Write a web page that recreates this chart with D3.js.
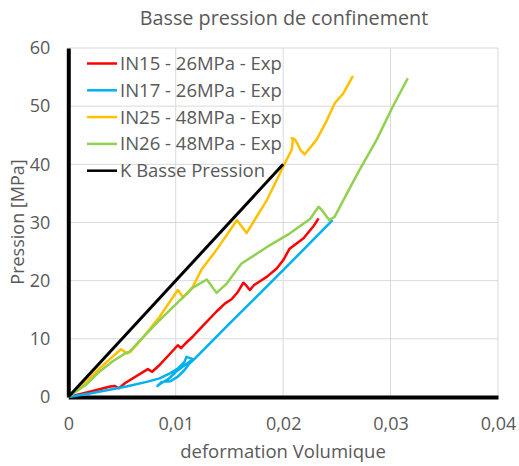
<!DOCTYPE html>
<html>
<head>
<meta charset="utf-8">
<script src="https://cdn.jsdelivr.net/npm/d3@7"></script>
<style>
  body { margin: 0; background: #fff; }
  text { font-family: "Open Sans", sans-serif; fill: #595959; }
</style>
</head>
<body>
<div id="chart-container"></div>
<script>
// series: [deformation volumique, pression MPa]
const in15 = [[0,0],[0.002,0.9],[0.0039,1.8],[0.0043,1.9],[0.0047,1.5],[0.0053,2.4],[0.0074,4.8],[0.0078,4.35],
  [0.0085,5.5],[0.0102,8.9],[0.0105,8.4],[0.0109,9.2],[0.0116,10.4],[0.0123,11.8],[0.0138,14.7],[0.0146,16.1],
  [0.0152,16.8],[0.0158,18.1],[0.0163,19.65],[0.0166,19.1],[0.0169,18.4],[0.0173,19.25],[0.0185,20.7],
  [0.0194,22.1],[0.02,23.5],[0.0206,25.5],[0.0219,27.3],[0.0228,29.3],[0.0233,30.7]];
const in17 = [[0,0],[0.002,0.6],[0.0054,1.8],[0.0073,2.6],[0.0085,3.2],[0.0095,4.1],[0.0102,4.9],[0.0108,6.0],
  [0.011,6.9],[0.0116,6.5],[0.0107,5.3],[0.01,4.3],[0.0094,3.2],[0.0085,2.2],[0.0083,1.9],[0.0087,2.6],
  [0.0095,2.7],[0.0102,3.5],[0.0108,4.6],[0.0113,5.8],[0.0118,6.65],[0.015,12.6],[0.02,21.8],[0.0246,30.4]];
const in25 = [[0,0],[0.00165,2.6],[0.0029,4.9],[0.0041,6.9],[0.0049,8.2],[0.0055,7.5],[0.0058,7.8],[0.0069,10.1],
  [0.0085,13.8],[0.0102,18.4],[0.0107,17.1],[0.0116,19.0],[0.0124,21.9],[0.0138,25.3],[0.0157,30.4],
  [0.0166,28.2],[0.0185,33.9],[0.0194,37.3],[0.02,39.6],[0.0208,42.5],[0.0209,44.2],[0.0208,44.5],
  [0.0211,44.3],[0.0214,43.3],[0.0216,42.5],[0.022,41.7],[0.0231,44.2],[0.024,47.3],[0.0248,50.5],
  [0.0256,52.2],[0.0265,55.2]];
const in26 = [[0,0],[0.00165,2.1],[0.0029,4.35],[0.0041,6.1],[0.0053,7.5],[0.0057,7.8],[0.0073,10.95],
  [0.0085,13.2],[0.0101,16.1],[0.0116,18.8],[0.0129,20.2],[0.0138,17.9],[0.0147,19.4],[0.0161,22.9],
  [0.0185,25.8],[0.0206,28.1],[0.0225,30.6],[0.0233,32.7],[0.0236,32.15],[0.0243,30.4],[0.0248,31.0],
  [0.0262,35.9],[0.0271,39.0],[0.0287,44.2],[0.0302,49.9],[0.0316,54.8]];
const kBasse = [[0,0],[0.02,40]];

const seriesNames = ["IN15 - 26MPa - Exp","IN17 - 26MPa - Exp","IN25 - 48MPa - Exp","IN26 - 48MPa - Exp","K Basse Pression"];
const seriesColors = ["#ff0000","#00b0f0","#ffc000","#92d050","#000000"];
const xTicks = [0,0.01,0.02,0.03,0.04];
const yTicks = [0,10,20,30,40,50,60];

const W = 519, H = 466;
const svg = d3.select("#chart-container").append("svg")
    .attr("width", W).attr("height", H);

const x = d3.scaleLinear().domain([0,0.04]).range([68.3,498]);
const y = d3.scaleLinear().domain([0,60]).range([397,48]);

// gridlines
svg.append("g").selectAll("line.h")
    .data(yTicks.slice(1))
    .enter().append("line")
    .attr("x1", x(0)).attr("x2", x(0.04))
    .attr("y1", d => y(d)).attr("y2", d => y(d))
    .attr("stroke", "#d9d9d9").attr("stroke-width", 1);
svg.append("g").selectAll("line.v")
    .data(xTicks.slice(1))
    .enter().append("line")
    .attr("x1", d => x(d)).attr("x2", d => x(d))
    .attr("y1", y(0)).attr("y2", y(60))
    .attr("stroke", "#d9d9d9").attr("stroke-width", 1);

// axes
const xAxis = svg.append("g")
    .attr("transform", `translate(0, ${y(0)})`)
    .call(d3.axisBottom(x).tickValues(xTicks).tickSize(0).tickPadding(20)
        .tickFormat(d => d === 0 ? "0" : d3.format(".2f")(d).replace(".", ",")));
const yAxis = svg.append("g")
    .attr("transform", `translate(${x(0)}, 0)`)
    .call(d3.axisLeft(y).tickValues(yTicks).tickSize(0).tickPadding(18));
[xAxis, yAxis].forEach(g => {
    g.select(".domain").attr("stroke", "#000").attr("stroke-width", 4);
    g.selectAll("text").style("font-size", "18px").style("font-family", "Open Sans, sans-serif").attr("fill", "#595959");
});

// lines
const line = d3.line().x(d => x(d[0])).y(d => y(d[1]));
const allSeries = [in15, in17, in25, in26, kBasse];
allSeries.forEach((s, i) => {
    svg.append("path")
        .datum(s)
        .attr("d", line)
        .attr("fill", "none")
        .attr("stroke", seriesColors[i])
        .attr("stroke-width", i === 4 ? 3 : 2.5)
        .attr("stroke-linejoin", "round");
});

// title and axis labels
svg.append("text")
    .attr("x", 284).attr("y", 25)
    .attr("text-anchor", "middle")
    .style("font-size", "19.8px")
    .text("Basse pression de confinement");
svg.append("text")
    .attr("x", 283).attr("y", 458)
    .attr("text-anchor", "middle")
    .style("font-size", "18.5px")
    .text("deformation Volumique");
svg.append("text")
    .attr("transform", "rotate(-90)")
    .attr("x", -222).attr("y", 24)
    .attr("text-anchor", "middle")
    .style("font-size", "18px")
    .text("Pression [MPa]");

// legend
const legend = svg.append("g");
seriesNames.forEach((name, i) => {
    const ly = 63.5 + i * 26.8;
    legend.append("line")
        .attr("x1", 87).attr("x2", 117)
        .attr("y1", ly).attr("y2", ly)
        .attr("stroke", seriesColors[i]).attr("stroke-width", 2.5);
    legend.append("text")
        .attr("x", 120).attr("y", ly)
        .attr("dy", "0.35em")
        .style("font-size", "18.5px")
        .text(name);
});
</script>
</body>
</html>
